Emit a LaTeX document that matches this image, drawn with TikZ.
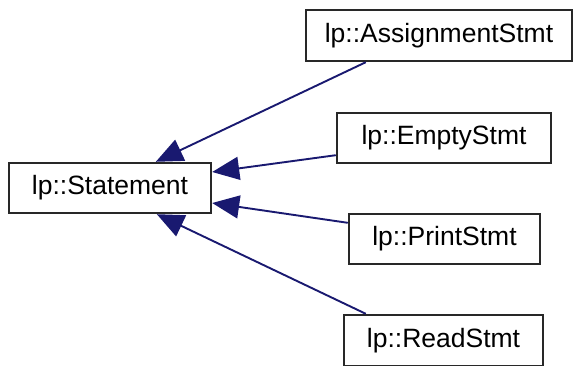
\documentclass[tikz,border=0pt]{standalone}
\usepackage{fontspec}
\setmainfont{Liberation Sans}
\usetikzlibrary{arrows.meta}
\definecolor{edgeblue}{RGB}{25,25,112}
\definecolor{boxline}{RGB}{40,40,40}
\tikzset{
  cls/.style={draw=boxline, line width=2.4pt, fill=white, inner sep=0pt,
    font=\fontsize{26.5}{30}\selectfont, text=black},
  inherit/.style={draw=edgeblue, line width=1.9pt,
    -{Triangle[length=27pt,width=23pt]}}
}
\begin{document}
\begin{tikzpicture}[x=1pt,y=-1pt]
\useasboundingbox (0,0) rectangle (579,365);
% class boxes
\node[cls, minimum width=202pt, minimum height=50pt] (stmt)   at (110,188)   {lp::Statement};
\node[cls, minimum width=266pt, minimum height=51pt] (assign) at (439,35.5)  {lp::AssignmentStmt};
\node[cls, minimum width=214pt, minimum height=50pt] (empty)  at (444,138)   {lp::EmptyStmt};
\node[cls, minimum width=191pt, minimum height=50pt] (print)  at (444.5,239) {lp::PrintStmt};
\node[cls, minimum width=199pt, minimum height=51pt] (read)   at (443.5,340.5) {lp::ReadStmt};
% inheritance arrows towards the base class
\draw[inherit] ([xshift=61pt]assign.south west) -- ([xshift=148pt]stmt.north west);
\draw[inherit] ([yshift=9pt]empty.south west) -- ([yshift=16pt]stmt.east);
\draw[inherit] ([yshift=-10pt]print.north west) -- ([yshift=-15pt]stmt.east);
\draw[inherit] ([xshift=23pt]read.north west) -- ([xshift=149pt]stmt.south west);
\end{tikzpicture}
\end{document}
